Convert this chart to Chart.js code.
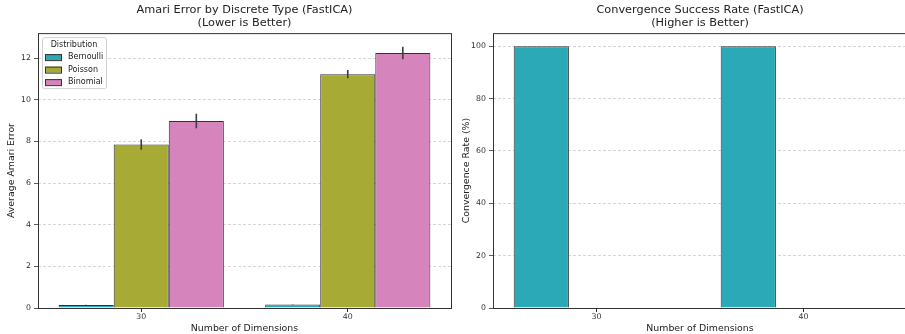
<!DOCTYPE html>
<html>
<head>
<meta charset="utf-8">
<script src="https://cdn.jsdelivr.net/npm/chart.js@4.4.1/dist/chart.umd.min.js"></script>
<style>
  html, body { margin: 0; padding: 0; background: #fff; overflow: hidden; }
  .wrap { position: absolute; top: 0; height: 334px; }
  #left { left: 0; width: 455px; }
  #right { left: 455px; width: 452px; }
</style>
</head>
<body>
<div class="wrap" id="left"><canvas id="amariChart" width="455" height="334"></canvas></div>
<div class="wrap" id="right"><canvas id="convChart" width="452" height="334"></canvas></div>
<script>
// data
const dims = ['30', '40'];
const distNames = ['Bernoulli', 'Poisson', 'Binomial'];
const distColors = ['#2ca9b7', '#a8aa36', '#d584bc'];

const bernoulliAmari = [0.15, 0.17];
const poissonAmari = [7.85, 11.23];
const binomialAmari = [8.98, 12.24];
const bernoulliAmariSd = [0.01, 0.01];
const poissonAmariSd = [0.25, 0.2];
const binomialAmariSd = [0.35, 0.3];

const bernoulliConv = [100, 100];
const poissonConv = [0, 0];
const binomialConv = [0, 0];

const amariTicks = [0, 2, 4, 6, 8, 10, 12];
const convTicks = [0, 20, 40, 60, 80, 100];

const FONT = "'DejaVu Sans', sans-serif";
const SPINE = '#333';

// four spines round the plot area
const framePlugin = {
  id: 'frame',
  afterDraw(chart) {
    const { ctx, chartArea: a } = chart;
    ctx.save();
    ctx.strokeStyle = SPINE;
    ctx.lineWidth = 1;
    ctx.strokeRect(a.left + 0.5, a.top + 0.5, a.right - a.left, a.bottom - a.top);
    ctx.restore();
  }
};

// vertical error bars from dataset.errors
const errorBarPlugin = {
  id: 'errorBars',
  afterDatasetsDraw(chart) {
    const { ctx } = chart;
    const y = chart.scales.y;
    ctx.save();
    ctx.strokeStyle = '#3c3c3c';
    ctx.lineWidth = 1.6;
    chart.data.datasets.forEach((ds, i) => {
      if (!ds.errors) return;
      const meta = chart.getDatasetMeta(i);
      meta.data.forEach((bar, j) => {
        const v = ds.data[j], e = ds.errors[j];
        ctx.beginPath();
        ctx.moveTo(bar.x, y.getPixelForValue(v - e));
        ctx.lineTo(bar.x, y.getPixelForValue(v + e));
        ctx.stroke();
      });
    });
    ctx.restore();
  }
};

// legend box inside the plot, top left
const innerLegendPlugin = {
  id: 'innerLegend',
  afterDraw(chart) {
    const { ctx, chartArea: a } = chart;
    const x0 = a.left + 4, y0 = a.top + 4, w = 64, h = 51;
    ctx.save();
    ctx.fillStyle = 'rgba(255,255,255,0.85)';
    ctx.strokeStyle = '#d0d0d0';
    ctx.lineWidth = 1;
    ctx.beginPath();
    ctx.roundRect(x0 + 0.5, y0 + 0.5, w, h, 2);
    ctx.fill();
    ctx.stroke();
    ctx.fillStyle = '#222';
    ctx.font = '8px ' + FONT;
    ctx.textBaseline = 'middle';
    ctx.textAlign = 'center';
    ctx.fillText('Distribution', x0 + w / 2, y0 + 8);
    ctx.textAlign = 'left';
    chart.data.datasets.forEach((ds, i) => {
      const cy = y0 + 20 + i * 12.5;
      ctx.fillStyle = ds.backgroundColor;
      ctx.fillRect(x0 + 3, cy - 3, 17, 6);
      ctx.strokeStyle = SPINE;
      ctx.strokeRect(x0 + 3.5, cy - 2.5, 16, 6);
      ctx.fillStyle = '#222';
      ctx.fillText(ds.label, x0 + 26, cy);
    });
    ctx.restore();
  }
};

function makeDatasets(values, errors) {
  return distNames.map((name, i) => ({
    label: name,
    data: values[i],
    errors: errors ? errors[i] : null,
    backgroundColor: distColors[i],
    borderColor: SPINE,
    borderWidth: 1,
    categoryPercentage: 0.8,
    barPercentage: 1.0
  }));
}

function makeOptions(title, yTitle, yMax, ticks, padRight) {
  return {
    responsive: false,
    animation: false,
    layout: { padding: { left: 0, right: padRight, top: 0, bottom: 0 } },
    plugins: {
      legend: { display: false },
      tooltip: { enabled: false },
      title: {
        display: true,
        text: title,
        fullSize: false,
        color: '#222',
        font: { family: FONT, size: 11.3, weight: 'normal', lineHeight: 1.2 },
        padding: { top: 3, bottom: 3 }
      }
    },
    scales: {
      x: {
        offset: true,
        border: { display: false },
        grid: { offset: false, drawOnChartArea: false, drawTicks: true, tickLength: 4, tickColor: SPINE },
        ticks: { color: '#333', font: { family: FONT, size: 7.8 }, padding: 0 },
        title: { display: true, text: 'Number of Dimensions', color: '#222', font: { family: FONT, size: 9.4 }, padding: { top: 0, bottom: 0 } },
        afterFit: s => { s.height = 26; }
      },
      y: {
        min: 0,
        max: yMax,
        border: { display: false, dash: [3, 2] },
        afterBuildTicks: s => { s.ticks = ticks.map(v => ({ value: v })); },
        grid: {
          color: '#cccccc',
          drawTicks: true,
          tickLength: 4,
          tickColor: SPINE,
          tickBorderDash: [],
          lineWidth: 0.8
        },
        ticks: { color: '#333', font: { family: FONT, size: 7.8 }, padding: 3 },
        title: { display: true, text: yTitle, color: '#222', font: { family: FONT, size: 9.4 }, padding: { top: 6, bottom: 0 } },
        afterFit: s => { s.width = 38; }
      }
    }
  };
}

new Chart(document.getElementById('amariChart'), {
  type: 'bar',
  data: {
    labels: dims,
    datasets: makeDatasets([bernoulliAmari, poissonAmari, binomialAmari],
                           [bernoulliAmariSd, poissonAmariSd, binomialAmariSd])
  },
  options: makeOptions(['Amari Error by Discrete Type (FastICA)', '(Lower is Better)'],
                       'Average Amari Error', 13.2, amariTicks, 4),
  plugins: [framePlugin, errorBarPlugin, innerLegendPlugin]
});

new Chart(document.getElementById('convChart'), {
  type: 'bar',
  data: {
    labels: dims,
    datasets: makeDatasets([bernoulliConv, poissonConv, binomialConv], null)
  },
  options: makeOptions(['Convergence Success Rate (FastICA)', '(Higher is Better)'],
                       'Convergence Rate (%)', 105, convTicks, 0),
  plugins: [framePlugin]
});
</script>
</body>
</html>
